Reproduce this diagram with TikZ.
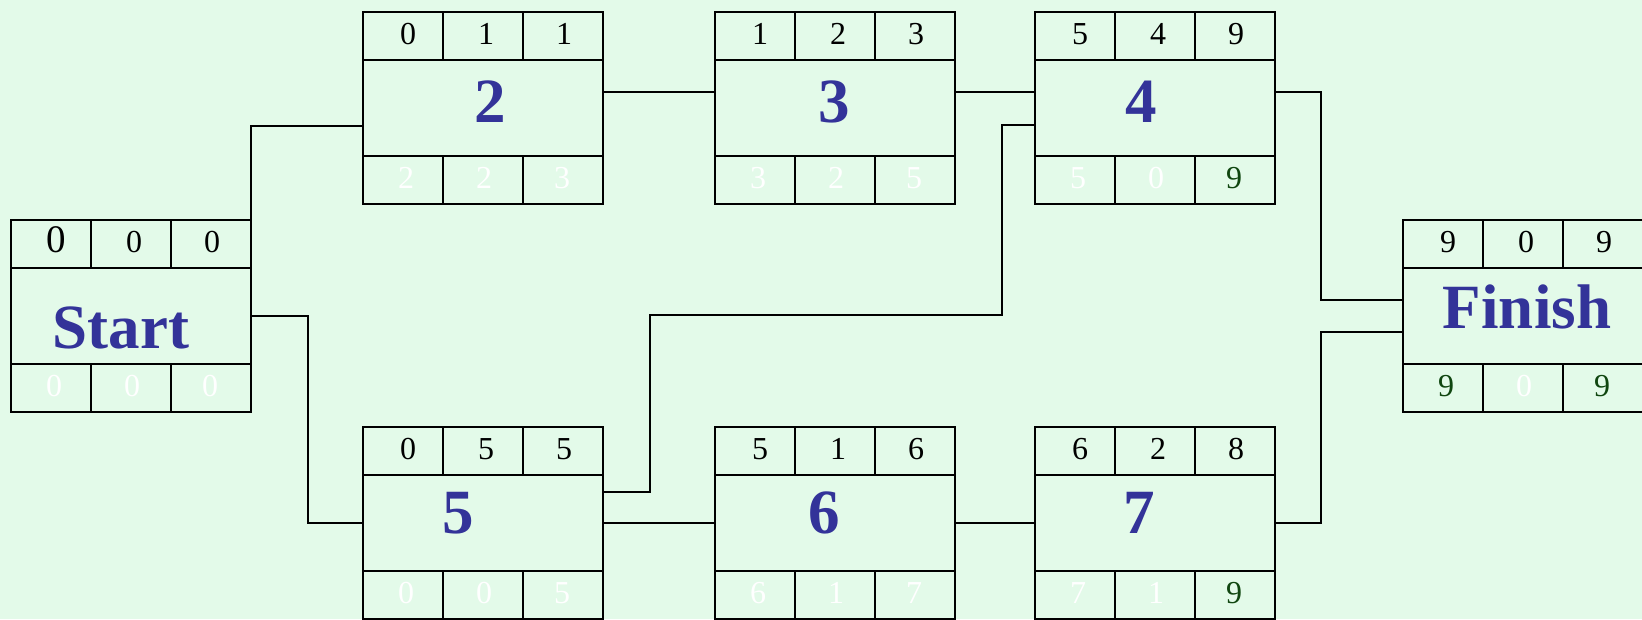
\documentclass[tikz,border=0pt]{standalone}
\usepackage{fontspec}
\setmainfont{Liberation Serif}
\definecolor{bgc}{RGB}{227,250,233}
\definecolor{labblue}{RGB}{51,51,153}
\definecolor{dgreen}{RGB}{16,70,16}
\tikzset{
  pbox/.style={draw=black, line width=2.8pt, minimum width=240pt, minimum height=192pt, inner sep=0pt, outer sep=0pt},
  grid/.style={draw=black, line width=2.8pt},
  conn/.style={draw=black, line width=2.8pt},
  num/.style={font=\fontsize{32}{34}\selectfont, inner sep=0pt, anchor=base},
  lab/.style={font=\fontsize{63}{70}\selectfont\bfseries, text=labblue, inner sep=0pt, anchor=base}
}
% #1 name, #2 left, #3 top, #4 label, #5 label x (rel), #6 label baseline (rel to middle top), #7 top values, #8 bottom colour/value
\newcommand\pertbox[8]{%
  \node[pbox] (#1) at (#2+120,#3+96) {};
  \draw[grid] (#2,#3+48) -- ++(240,0) (#2,#3+144) -- ++(240,0)
    (#2+80,#3) -- ++(0,48) (#2+160,#3) -- ++(0,48)
    (#2+80,#3+144) -- ++(0,48) (#2+160,#3+144) -- ++(0,48);
  \node[lab] (#1-l) at (#2+#5,#3+48+#6) {#4};
  \foreach \v [count=\i] in {#7} {\node[num] (#1-t\i) at (#2+78*\i-33,#3+32) {\v};}
  \foreach \c/\v [count=\i] in {#8} {\node[num,text=\c] (#1-b\i) at (#2+78*\i-35,#3+176) {\v};}
}
\begin{document}
\begin{tikzpicture}[x=1pt,y=-1pt]
\clip (0,0) rectangle (1642,619);
\fill[bgc] (0,0) rectangle (1642,619);
\pertbox{S}{11}{220}{Start}{110}{80}{{\fontsize{39}{42}\selectfont 0},0,0}{white/0,white/0,white/0}
\pertbox{B2}{363}{12}{2}{127}{62}{0,1,1}{white/2,white/2,white/3}
\pertbox{B3}{715}{12}{3}{119}{62}{1,2,3}{white/3,white/2,white/5}
\pertbox{B4}{1035}{12}{4}{106}{62}{5,4,9}{white/5,white/0,dgreen/9}
\pertbox{F}{1403}{220}{Finish}{124}{60}{9,0,9}{dgreen/9,white/0,dgreen/9}
\pertbox{B5}{363}{427}{5}{95}{58}{0,5,5}{white/0,white/0,white/5}
\pertbox{B6}{715}{427}{6}{109}{58}{5,1,6}{white/6,white/1,white/7}
\pertbox{B7}{1035}{427}{7}{104}{58}{6,2,8}{white/7,white/1,dgreen/9}
% connectors
\draw[conn] (S.east) |- ([yshift=-18pt]B2.west);
\draw[conn] (S.east) -- ++(57,0) |- (B5.west);
\draw[conn] ([yshift=16pt]B2.east) -- ([yshift=16pt]B3.west);
\draw[conn] ([yshift=16pt]B3.east) -- ([yshift=16pt]B4.west);
\draw[conn] ([yshift=31pt]B5.east) -| (650,315) -| (1002,125) -- ([yshift=-17pt]B4.west);
\draw[conn] (B5.east) -- (B6.west);
\draw[conn] (B6.east) -- (B7.west);
\draw[conn] ([yshift=16pt]B4.east) -- ++(46,0) |- ([yshift=16pt]F.west);
\draw[conn] (B7.east) -- ++(46,0) |- ([yshift=-16pt]F.west);
\end{tikzpicture}
\end{document}
